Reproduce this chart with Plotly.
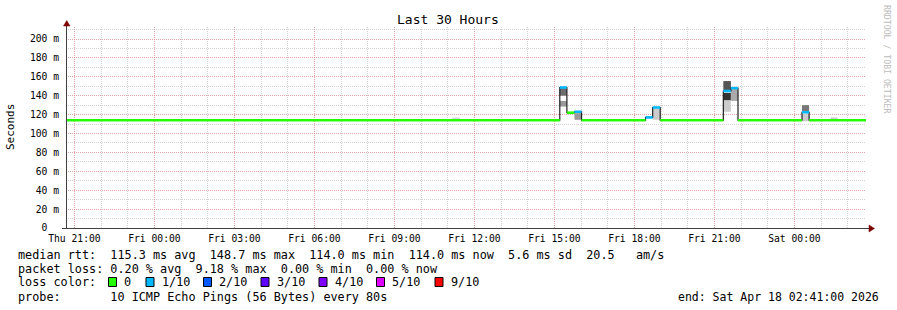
import plotly.graph_objects as go
import pandas as pd

# ---------------- data ----------------
t_start = "2026-04-16 20:41:00"
t_end = "2026-04-18 02:41:00"

# median RTT segments (step data)
seg_start = ["2026-04-16 20:41", "2026-04-17 15:12", "2026-04-17 15:28", "2026-04-17 15:45",
             "2026-04-17 16:01", "2026-04-17 18:25", "2026-04-17 18:41", "2026-04-17 18:58",
             "2026-04-17 21:20", "2026-04-17 21:37", "2026-04-17 21:53", "2026-04-18 00:17",
             "2026-04-18 00:33"]
median_ms = [114.0, 148.7, 122.0, 123.0, 114.0, 117.0, 127.5, 114.0, 145.0, 148.0, 114.0, 122.5, 114.0]
loss_pings = [0, 1, 0, 1, 0, 1, 1, 0, 1, 1, 0, 1, 0]

# smoke bands
smoke_start = ["2026-04-17 11:10", "2026-04-17 15:12", "2026-04-17 15:12", "2026-04-17 15:45",
               "2026-04-17 18:41", "2026-04-17 21:20", "2026-04-17 21:20", "2026-04-17 21:20",
               "2026-04-17 21:37", "2026-04-18 00:17", "2026-04-18 00:17", "2026-04-18 01:21"]
smoke_end = ["2026-04-17 11:27", "2026-04-17 15:28", "2026-04-17 15:28", "2026-04-17 16:01",
             "2026-04-17 18:58", "2026-04-17 21:37", "2026-04-17 21:37", "2026-04-17 21:37",
             "2026-04-17 21:53", "2026-04-18 00:33", "2026-04-18 00:33", "2026-04-18 01:37"]
smoke_lo = [114.5, 140.0, 128.5, 114.5, 114.5, 145.5, 135.0, 123.0, 134.5, 123.5, 113.0, 114.5]
smoke_hi = [117.0, 148.0, 134.5, 121.5, 126.0, 155.5, 143.0, 135.0, 147.5, 130.0, 121.0, 117.0]
smoke_grey = ["#d8d8d8", "#6e6e6e", "#9a9a9a", "#9a9a9a", "#cccccc", "#555555", "#333333",
              "#cccccc", "#aaaaaa", "#777777", "#cccccc", "#cccccc"]

# loss colours
loss_labels = ["0", "1/10", "2/10", "3/10", "4/10", "5/10", "9/10"]
loss_values = [0, 1, 2, 3, 4, 5, 9]
loss_colors = ["#26ff00", "#00b8ff", "#0059ff", "#5e00ff", "#7e00ff", "#dd00ff", "#ff0000"]

# ticks
xtick_vals = ["2026-04-16 21:00", "2026-04-17 00:00", "2026-04-17 03:00", "2026-04-17 06:00",
              "2026-04-17 09:00", "2026-04-17 12:00", "2026-04-17 15:00", "2026-04-17 18:00",
              "2026-04-17 21:00", "2026-04-18 00:00"]
xtick_text = ["Thu 21:00", "Fri 00:00", "Fri 03:00", "Fri 06:00", "Fri 09:00", "Fri 12:00",
              "Fri 15:00", "Fri 18:00", "Fri 21:00", "Sat 00:00"]
ytick_vals = [0, 20, 40, 60, 80, 100, 120, 140, 160, 180, 200]
ytick_text = ["0\u00a0\u00a0", "20 m", "40 m", "60 m", "80 m", "100 m", "120 m", "140 m",
              "160 m", "180 m", "200 m"]

stat_lines = [
    "median rtt:  115.3 ms avg  148.7 ms max  114.0 ms min  114.0 ms now  5.6 ms sd  20.5   am/s",
    "packet loss: 0.20 % avg  9.18 % max  0.00 % min  0.00 % now",
    "loss color:",
    "probe:       10 ICMP Echo Pings (56 Bytes) every 80s",
]
end_text = "end: Sat Apr 18 02:41:00 2026"
title_text = "Last 30 Hours"

# ---------------- layout helpers ----------------
W, H = 897, 310
L, R, T, B = 66, 31, 27, 82
PW, PH = W - L - R, H - T - B
MONO = "DejaVu Sans Mono"


def px(x):
    return (x - L) / PW


def py(y):
    return (H - B - y) / PH


def nb(s):
    return s.replace(" ", "\u00a0")


fig = go.Figure()

# smoke
for s, e, lo, hi, c in zip(smoke_start, smoke_end, smoke_lo, smoke_hi, smoke_grey):
    fig.add_trace(go.Scatter(x=[s, e, e, s, s], y=[lo, lo, hi, hi, lo], mode="lines",
                             fill="toself", fillcolor=c, line=dict(width=0, color=c),
                             hoverinfo="skip"))

# dark median step line
fig.add_trace(go.Scatter(x=seg_start + [t_end], y=median_ms + [median_ms[-1]], mode="lines",
                         line=dict(color="#202020", width=1.2, shape="hv"), hoverinfo="skip"))

# loss-coloured median segments
seg_end = seg_start[1:] + [t_end]
for lv, col in zip(loss_values, loss_colors):
    xs, ys = [], []
    for s, e, m, l in zip(seg_start, seg_end, median_ms, loss_pings):
        if l == lv:
            xs += [s, e, None]
            ys += [m, m, None]
    if xs:
        fig.add_trace(go.Scatter(x=xs, y=ys, mode="lines", line=dict(color=col, width=2.6),
                                 hoverinfo="skip"))

MAJOR = "rgba(240,120,120,0.5)"
MINOR = "rgba(175,175,175,0.55)"
hours = [d.strftime("%Y-%m-%d %H:%M") for d in pd.date_range("2026-04-16 21:00", "2026-04-18 02:00", freq="h")]

fig.update_layout(
    width=W, height=H, autosize=False,
    margin=dict(l=L, r=R, t=T, b=B, pad=0),
    paper_bgcolor="white", plot_bgcolor="white",
    showlegend=False,
    font=dict(family=MONO, size=10, color="black"),
    xaxis=dict(type="date", range=[t_start, t_end], tickmode="array", tickvals=xtick_vals,
               ticktext=xtick_text, showgrid=True, gridcolor=MAJOR, griddash="1px,1px",
               gridwidth=1, zeroline=False, showline=False, ticks="outside", ticklen=1,
               tickcolor="rgba(0,0,0,0)",
               tickfont=dict(family=MONO, size=9.7, color="black"),
               minor=dict(tickmode="array", tickvals=hours, showgrid=True, gridcolor=MINOR,
                          griddash="1px,1px", gridwidth=1, ticks=""),
               fixedrange=True),
    yaxis=dict(range=[0, 212.7], tickmode="array", tickvals=ytick_vals, ticktext=ytick_text,
               showgrid=True, gridcolor=MAJOR, griddash="1px,1px", gridwidth=1,
               zeroline=False, showline=False, ticks="outside", ticklen=4,
               tickcolor="rgba(0,0,0,0)",
               tickfont=dict(family=MONO, size=9.7, color="black"),
               minor=dict(dtick=10, tick0=0, showgrid=True, gridcolor=MINOR,
                          griddash="1px,1px", gridwidth=1, ticks=""),
               fixedrange=True),
)

shapes = []
AX = "#404040"
ARROW = "#7f0000"
# axes lines
shapes.append(dict(type="line", xref="paper", yref="paper", x0=px(66.5), x1=px(66.5),
                   y0=py(228), y1=py(23), line=dict(color=AX, width=1)))
shapes.append(dict(type="line", xref="paper", yref="paper", x0=px(62), x1=px(870),
                   y0=py(228.5), y1=py(228.5), line=dict(color=AX, width=1)))
# arrows
shapes.append(dict(type="path", xref="paper", yref="paper",
                   path=f"M {px(63.5)},{py(26)} L {px(70)},{py(26)} L {px(66.75)},{py(20.5)} Z",
                   fillcolor=ARROW, line=dict(color=ARROW, width=0.5)))
shapes.append(dict(type="path", xref="paper", yref="paper",
                   path=f"M {px(869)},{py(225)} L {px(869)},{py(232)} L {px(874.5)},{py(228.5)} Z",
                   fillcolor=ARROW, line=dict(color=ARROW, width=0.5)))

annotations = []
# title
annotations.append(dict(text=nb(title_text), xref="paper", yref="paper", x=px(447.7), y=py(19.5),
                        xanchor="center", yanchor="middle", showarrow=False,
                        font=dict(family=MONO, size=13, color="black")))
# y title
annotations.append(dict(text="Seconds", xref="paper", yref="paper", x=px(11), y=py(127),
                        xanchor="center", yanchor="middle", showarrow=False, textangle=-90,
                        font=dict(family=MONO, size=11, color="black")))
# watermark
annotations.append(dict(text=nb("RRDTOOL / TOBI OETIKER"), xref="paper", yref="paper",
                        x=px(887), y=py(59), xanchor="center", yanchor="middle",
                        showarrow=False, textangle=90,
                        font=dict(family=MONO, size=8.2, color="#bbbbbb")))
# stats lines
line_y = [254.5, 268.5, 282, 296.5]
for txt, yy in zip(stat_lines, line_y):
    annotations.append(dict(text=nb(txt), xref="paper", yref="paper", x=px(15.5), y=py(yy),
                            xanchor="left", yanchor="middle", showarrow=False,
                            font=dict(family=MONO, size=11.8, color="black")))
annotations.append(dict(text=nb(end_text), xref="paper", yref="paper", x=px(881), y=py(296.5),
                        xanchor="right", yanchor="middle", showarrow=False,
                        font=dict(family=MONO, size=11.5, color="black")))
# loss colour legend
sq_x = [108.5, 146, 203.5, 261, 319, 376.5, 435]
for sx, lab, col in zip(sq_x, loss_labels, loss_colors):
    shapes.append(dict(type="rect", xref="paper", yref="paper", x0=px(sx), x1=px(sx + 8),
                       y0=py(286.5), y1=py(277.5), fillcolor=col,
                       line=dict(color="black", width=1)))
    annotations.append(dict(text=nb(lab), xref="paper", yref="paper", x=px(sx + 13.5), y=py(282),
                            xanchor="left", yanchor="middle", showarrow=False,
                            font=dict(family=MONO, size=11.8, color="black")))

fig.update_layout(shapes=shapes, annotations=annotations)
fig.write_html("out.html", config={"displayModeBar": False, "staticPlot": True})
